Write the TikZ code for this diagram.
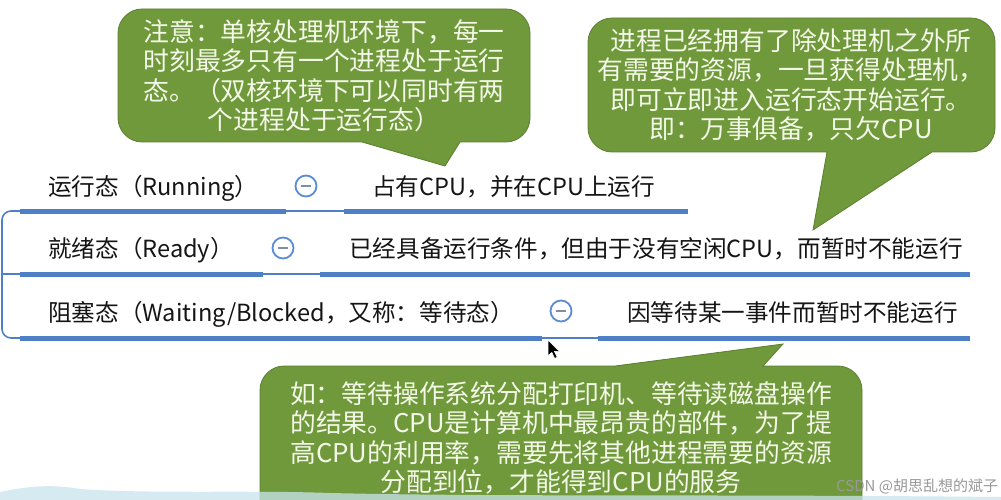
\documentclass[tikz,border=0pt]{standalone}
\usepackage{fontspec}
\setmainfont{Noto Sans CJK SC}
\definecolor{bubgreen}{HTML}{70993B}
\definecolor{bubedge}{HTML}{5A7F2E}
\definecolor{bubtext}{HTML}{F4F8E8}
\definecolor{lineblue}{HTML}{4F7FC7}
\definecolor{iconblue}{HTML}{5B8BD3}
\definecolor{minusgray}{HTML}{7F8EA8}
\definecolor{txtblack}{HTML}{151515}
\definecolor{bandblue}{HTML}{C9E4EE}
\begin{document}
\begin{tikzpicture}[x=1pt,y=-1pt,
  lbl/.style={anchor=base west, inner sep=0, font=\fontsize{23.6}{28}\selectfont, text=txtblack},
  bub/.style={fill=bubgreen, draw=bubedge, line width=0.8},
  bubtxt/.style={align=center, inner sep=0, text=bubtext, font=\fontsize{25.8}{29.5}\selectfont},
  uline/.style={line width=5, draw=lineblue},
  thinl/.style={line width=1.6, draw=lineblue},
  fold/.style={circle, draw=iconblue, line width=1.8, minimum size=21, inner sep=0, fill=white},
  minusbar/.style={draw=minusgray, line width=2}
]
\useasboundingbox (0,0) rectangle (1001,500);
\clip (0,0) rectangle (1001,500);
\fill[white] (0,0) rectangle (1001,500);

% callout 1
\draw[bub] (142,9) -- (506,9) .. controls (519,9) and (530,20) .. (530,33) -- (530,118)
  .. controls (530,131) and (519,142) .. (506,142) -- (460,142) -- (445,166) -- (362,142)
  -- (142,142) .. controls (129,142) and (118,131) .. (118,118) -- (118,33)
  .. controls (118,20) and (129,9) .. (142,9) -- cycle;
\node[bubtxt] (note1) at (324,76) {注意：单核处理机环境下，每一\\时刻最多只有一个进程处于运行\\态。（双核环境下可以同时有两\\个进程处于运行态）};

% callout 2
\draw[bub] (612,18) -- (971,18) .. controls (984,18) and (995,29) .. (995,42) -- (995,128)
  .. controls (995,141) and (984,152) .. (971,152) -- (932,152) -- (813,230) -- (827,152)
  -- (612,152) .. controls (599,152) and (588,141) .. (588,128) -- (588,42)
  .. controls (588,29) and (599,18) .. (612,18) -- cycle;
\node[bubtxt] (note2) at (791,85) {进程已经拥有了除处理机之外所\\有需要的资源，一旦获得处理机，\\即可立即进入运行态开始运行。\\即：万事俱备，只欠CPU};

% callout 3
\draw[bub] (284,366) -- (615,366) -- (783,344) -- (763,366) -- (838,366)
  .. controls (851,366) and (862,377) .. (862,390) -- (862,530) -- (260,530) -- (260,390)
  .. controls (260,377) and (271,366) .. (284,366) -- cycle;
\node[bubtxt] (note3) at (561,438) {如：等待操作系统分配打印机、等待读磁盘操作\\的结果。CPU是计算机中最昂贵的部件，为了提\\高CPU的利用率，需要先将其他进程需要的资源\\分配到位，才能得到CPU的服务};

% row coordinates
\coordinate (u1a) at (20,211);  \coordinate (u1b) at (286,211);
\coordinate (u1c) at (344,211); \coordinate (u1d) at (688,211);
\coordinate (u2a) at (20,274);  \coordinate (u2b) at (263,274);
\coordinate (u2c) at (320,274); \coordinate (u2d) at (970,274);
\coordinate (u3a) at (20,338);  \coordinate (u3b) at (542,338);
\coordinate (u3c) at (598,338); \coordinate (u3d) at (970,338);
\coordinate (bk1) at (2,211); \coordinate (bk2) at (2,274); \coordinate (bk3) at (2,338);

% left bracket
\draw[thinl, rounded corners=9] (u1a) -- (bk1) -- (bk3) -- (u3a);
\draw[thinl] (bk2) -- (u2a);

% underlines
\draw[thinl] (u1b) -- (u1c);
\draw[thinl] (u2b) -- (u2c);
\draw[thinl] (u3b) -- (u3c);
\draw[uline] (u1a) -- (u1b);
\draw[uline] (u1c) -- (u1d);
\draw[uline] (u2a) -- (u2b);
\draw[uline] (u2c) -- (u2d);
\draw[uline] (u3a) -- (u3b);
\draw[uline] (u3c) -- (u3d);

% labels
\node[lbl] (run) at (48,195) {运行态（Running）};
\node[lbl] (rund) at (372,195) {占有CPU，并在CPU上运行};
\node[lbl] (rdy) at (48,257) {就绪态（Ready）};
\node[lbl] (rdyd) at (349,257) {已经具备运行条件，但由于没有空闲CPU，而暂时不能运行};
\node[lbl] (blk) at (48,321) {阻塞态（Waiting/Blocked，又称：等待态）};
\node[lbl] (blkd) at (627,321) {因等待某一事件而暂时不能运行};

% fold icons
\node[fold] (f1) at (306,186) {};
\node[fold] (f2) at (283,248) {};
\node[fold] (f3) at (561,311) {};
\foreach \f in {f1,f2,f3}
  \draw[minusbar] ([xshift=-5]\f.center) -- ([xshift=5]\f.center);

% cursor
\filldraw[fill=black, draw=white, line width=0.6] (548,340) -- ++(0,16) -- ++(3.8,-3.6)
  -- ++(2.8,6) -- ++(2.6,-1.2) -- ++(-2.8,-5.8) -- ++(5.2,0) -- cycle;

% bottom band
\fill[bandblue, opacity=0.75] (0,500) -- (0,492) .. controls (30,486) and (50,484) .. (80,489)
  .. controls (150,494) and (250,490) .. (330,493) .. controls (500,497) and (700,494) .. (1001,497)
  -- (1001,500) -- cycle;

% watermark
\node[anchor=base west, inner sep=0, font=\fontsize{15}{17}\selectfont, text=gray!80] (wm) at (836,491) {CSDN @胡思乱想的斌子};
\end{tikzpicture}
\end{document}
